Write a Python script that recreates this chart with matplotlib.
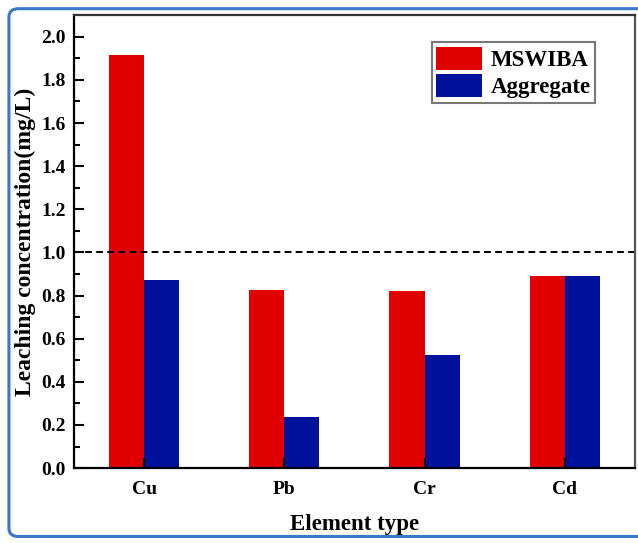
import matplotlib.pyplot as plt
from matplotlib.patches import FancyBboxPatch
import numpy as np

# data
elements = ['Cu', 'Pb', 'Cr', 'Cd']
mswiba = [1.915, 0.828, 0.820, 0.890]
aggregate = [0.870, 0.236, 0.523, 0.890]
limit = 1.0

plt.rcParams['font.family'] = ['Liberation Serif', 'DejaVu Serif']
plt.rcParams['font.weight'] = 'bold'

fig = plt.figure(figsize=(6.38, 5.43), dpi=100)
ax = fig.add_axes([0.116, 0.138, 0.879, 0.834])

x = np.arange(1, len(elements) + 1)
w = 0.25
ax.bar(x - w / 2, mswiba, w, color='#e00000', label='MSWIBA')
ax.bar(x + w / 2, aggregate, w, color='#00119c', label='Aggregate')

ax.axhline(limit, color='black', linestyle=(0, (3.5, 2.2)), linewidth=1.4)

ax.set_xlim(0.5, 4.5)
ax.set_ylim(0, 2.1)
ax.set_xticks(x)
ax.set_xticklabels(elements)
ax.set_yticks(np.arange(0, 2.01, 0.2))
ax.set_yticks(np.arange(0.1, 2.1, 0.2), minor=True)
ax.yaxis.set_major_formatter(plt.FormatStrFormatter('%.1f'))

ax.tick_params(axis='both', which='major', direction='in', length=7, width=1.5,
               labelsize=14, pad=6)
ax.tick_params(axis='x', which='major', pad=9)
ax.tick_params(axis='y', which='minor', direction='in', length=4, width=1.5)
for s in ax.spines.values():
    s.set_linewidth(1.6)
ax.spines['top'].set_color('#333333')
ax.spines['right'].set_color('#555555')

ax.set_xlabel('Element type', fontsize=16.5, fontweight='bold', labelpad=12)
ax.set_ylabel('Leaching concentration(mg/L)', fontsize=17, fontweight='bold', labelpad=4)

leg = ax.legend(loc='upper right', bbox_to_anchor=(0.929, 0.94), fontsize=16.5,
                frameon=True, fancybox=False, edgecolor='#555555',
                handlelength=2.0, handleheight=1.15, handletextpad=0.35,
                borderpad=0.2, labelspacing=0.12, borderaxespad=0)
leg.get_frame().set_linewidth(1.5)

# rounded blue frame around the figure
frame = FancyBboxPatch((0.014, 0.012), 1.05, 0.972, transform=fig.transFigure,
                       boxstyle='round,pad=0,rounding_size=0.015',
                       fill=False, edgecolor='#3a78c8', linewidth=2.2, clip_on=False)
fig.patches.append(frame)

fig.savefig('out.png', dpi=100)
